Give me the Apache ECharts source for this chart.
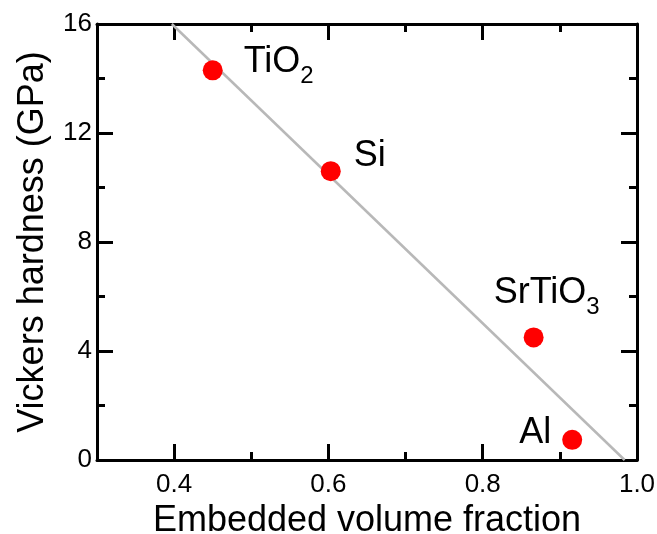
<!DOCTYPE html>
<html>
<head>
<meta charset="utf-8">
<script src="https://cdn.jsdelivr.net/npm/echarts@6/dist/echarts.min.js"></script>
<style>
  html, body { margin: 0; padding: 0; background: #fff; }
  #chart { width: 657px; height: 534px; }
</style>
</head>
<body>
<div id="chart"></div>
<script>
// Hardness vs. embedded volume fraction for four filler materials
const materials = ['TiO{s|2}', 'Si', 'SrTiO{s|3}', 'Al'];
const volumeFraction = [0.45, 0.603, 0.866, 0.916];
const hardness = [14.3, 10.6, 4.5, 0.74];

// Linear trend line endpoints (x, y)
const trendX = [0.397, 0.984];
const trendY = [16, 0];

// Axis tick values
const xMajorTicks = [0.4, 0.6, 0.8, 1.0];
const xMinorTicks = [0.5, 0.7, 0.9];

// Label placement relative to each marker: [dx, dy] from marker centre
const labelShift = [[31, -8], [23, -15], [-40, -44], [-53, -7]];

const FONT = '"Liberation Sans", Arial, sans-serif';
const AXIS_W = 3;

function xAxisCfg(pos, ticks, len, showLabel, showLine) {
  return {
    type: 'value', position: pos, min: 0.3, max: 1.0,
    splitLine: { show: false },
    axisLine: { show: showLine, onZero: false, lineStyle: { color: '#000', width: AXIS_W } },
    axisTick: { show: true, inside: true, length: len, customValues: ticks,
                lineStyle: { color: '#000', width: AXIS_W } },
    axisLabel: { show: showLabel, customValues: xMajorTicks, margin: 12,
                 formatter: v => v.toFixed(1),
                 color: '#000', fontSize: 26, fontFamily: FONT }
  };
}

function yAxisCfg(pos, showLabel) {
  return {
    type: 'value', position: pos, min: 0, max: 16, interval: 4,
    splitLine: { show: false },
    axisLine: { show: true, onZero: false, lineStyle: { color: '#000', width: AXIS_W } },
    axisTick: { show: true, inside: true, length: 16, lineStyle: { color: '#000', width: AXIS_W } },
    minorTick: { show: true, splitNumber: 2, length: 8, lineStyle: { color: '#000', width: AXIS_W } },
    axisLabel: { show: showLabel, margin: 5, color: '#000', fontSize: 26, fontFamily: FONT }
  };
}

const xBottom = xAxisCfg('bottom', xMajorTicks, 16, true, true);
xBottom.name = 'Embedded volume fraction';
xBottom.nameLocation = 'middle';
xBottom.nameGap = 41;
xBottom.nameTextStyle = { color: '#000', fontSize: 36, fontFamily: FONT };

const yLeft = yAxisCfg('left', true);
yLeft.name = 'Vickers hardness (GPa)';
yLeft.nameLocation = 'middle';
yLeft.nameGap = 46;
yLeft.nameTextStyle = { color: '#000', fontSize: 36, fontFamily: FONT };

const labelRich = {
  s: { fontSize: 24, fontFamily: FONT, color: '#000', verticalAlign: 'bottom', padding: [0, 0, -8, 0] }
};

const scatterData = volumeFraction.map((x, i) => ({
  value: [x, hardness[i]],
  label: {
    show: true,
    formatter: materials[i],
    position: [labelShift[i][0] + 10, labelShift[i][1] + 10],
    align: 'left', verticalAlign: 'middle',
    fontSize: 36, fontFamily: FONT, color: '#000',
    rich: labelRich
  }
}));

const chart = echarts.init(document.getElementById('chart'), null, { renderer: 'canvas' });
chart.setOption({
  animation: false,
  backgroundColor: '#fff',
  grid: { left: 97, right: 20, top: 24, bottom: 74, containLabel: false, outerBoundsMode: 'none' },
  xAxis: [
    xBottom,
    xAxisCfg('bottom', xMinorTicks, 8, false, false),
    xAxisCfg('top', xMajorTicks, 16, false, true),
    xAxisCfg('top', xMinorTicks, 8, false, false)
  ],
  yAxis: [yLeft, yAxisCfg('right', false)],
  series: [
    {
      type: 'line', xAxisIndex: 0, yAxisIndex: 0,
      data: trendX.map((x, i) => [x, trendY[i]]),
      symbol: 'none', silent: true, z: 1,
      lineStyle: { color: '#b8b8b8', width: 2.5 }
    },
    {
      type: 'scatter', xAxisIndex: 0, yAxisIndex: 0,
      data: scatterData,
      symbol: 'circle', symbolSize: 20, z: 3,
      itemStyle: { color: '#ff0000', opacity: 1 }
    }
  ]
});
</script>
</body>
</html>
